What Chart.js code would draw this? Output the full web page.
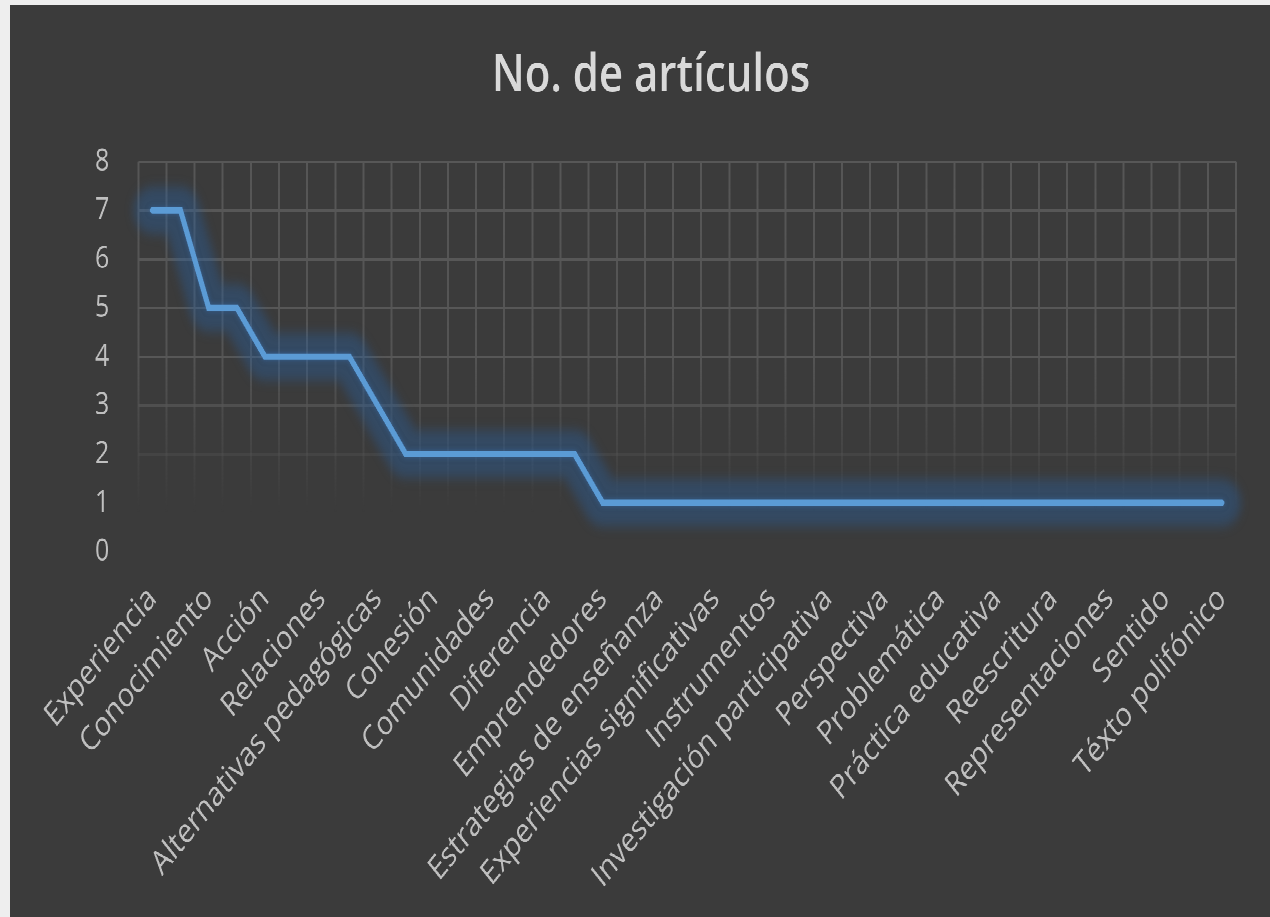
<!DOCTYPE html>
<html>
<head>
<meta charset="utf-8">
<script src="https://cdn.jsdelivr.net/npm/chart.js@4/dist/chart.umd.min.js"></script>
<style>
  html, body { margin: 0; padding: 0; background: #eeeeee; overflow: hidden; }
  #frame {
    position: absolute; left: 10px; top: 5px;
    width: 1260px; height: 730px;
    background: #3b3b3b;
    transform: scaleY(1.25); transform-origin: top left;
  }
  #frame canvas { display: block; }
</style>
</head>
<body>
<div id="frame"><canvas id="lineChart" width="1260" height="730" style="width:1260px;height:730px"></canvas></div>
<script>
// only every second category name is printed in the picture; the others stay blank
const categories = [
  "Experiencia", "", "Conocimiento", "", "Acción", "", "Relaciones", "",
  "Alternativas pedagógicas", "", "Cohesión", "", "Comunidades", "",
  "Diferencia", "", "Emprendedores", "", "Estrategias de enseñanza", "",
  "Experiencias significativas", "", "Instrumentos", "",
  "Investigación participativa", "", "Perspectiva", "", "Problemática", "",
  "Práctica educativa", "", "Reescritura", "", "Representaciones", "",
  "Sentido", "", "Téxto polifónico"
];
const articles = [
  7, 7, 5, 5, 4, 4, 4, 4, 3, 2, 2, 2, 2, 2, 2, 2,
  1, 1, 1, 1, 1, 1, 1, 1, 1, 1, 1, 1, 1, 1, 1, 1, 1, 1, 1, 1, 1, 1, 1
];
const yTicks = [0, 1, 2, 3, 4, 5, 6, 7, 8];

const gridRGB = "87, 87, 87";

// Excel "glow" effect: the halo dataset (index 1) is drawn blurred
const glowPlugin = {
  id: "glow",
  beforeDatasetDraw(chart, args) {
    const ctx = chart.ctx;
    ctx.save();
    if (args.index === 1) {
      ctx.filter = "blur(9px)";
    } else {
      ctx.shadowColor = "rgba(60, 120, 190, 0.5)";
      ctx.shadowBlur = 8;
    }
  },
  afterDatasetDraw(chart) {
    chart.ctx.restore();
  },
};

function verticalGridColor(context) {
  const chart = context.chart;
  const area = chart.chartArea;
  if (!area) return `rgba(${gridRGB}, 1)`;
  const g = chart.ctx.createLinearGradient(0, area.top, 0, area.bottom);
  g.addColorStop(0, `rgba(${gridRGB}, 1)`);
  g.addColorStop(0.5, `rgba(${gridRGB}, 0.9)`);
  g.addColorStop(0.75, `rgba(${gridRGB}, 0.35)`);
  g.addColorStop(0.9, `rgba(${gridRGB}, 0)`);
  g.addColorStop(1, `rgba(${gridRGB}, 0)`);
  return g;
}

function horizontalGridColor(context) {
  const v = context.tick ? context.tick.value : 8;
  let a = 1;
  if (v <= 3) a = 0.75;
  if (v <= 2) a = 0.35;
  if (v <= 1) a = 0;
  return `rgba(${gridRGB}, ${a})`;
}

const ctx = document.getElementById("lineChart").getContext("2d");
new Chart(ctx, {
  type: "line",
  data: {
    labels: categories,
    datasets: [
      {
        label: "No. de artículos",
        data: articles,
        borderColor: "#5b9bd5",
        borderWidth: 5,
        borderCapStyle: "round",
        borderJoinStyle: "miter",
        tension: 0,
        pointRadius: 0,
        fill: false,
        order: 0,
      },
      {
        // halo behind the line
        label: "glow",
        data: articles,
        borderColor: "rgba(40, 100, 170, 0.36)",
        borderWidth: 38,
        borderCapStyle: "round",
        borderJoinStyle: "round",
        tension: 0,
        pointRadius: 0,
        fill: false,
        order: 1,
      },
    ],
  },
  options: {
    responsive: false,
    animation: false,
    devicePixelRatio: 2,
    layout: { padding: { top: 30, left: 56, right: 34, bottom: -5 } },
    plugins: {
      legend: { display: false },
      tooltip: { enabled: false },
      title: {
        display: true,
        text: "No. de artículos",
        color: "#d9d9d9",
        font: { family: "Open Sans", size: 42, weight: "600" },
        padding: { top: 2, bottom: 43 },
      },
    },
    scales: {
      x: {
        offset: true,
        border: { display: false },
        grid: { offset: true, drawTicks: false, lineWidth: 2, color: verticalGridColor },
        ticks: {
          autoSkip: false,
          minRotation: 45,
          maxRotation: 45,
          padding: 22,
          color: "#bfbfbf",
          font: { family: "Open Sans", size: 27 },
        },
      },
      y: {
        min: yTicks[0],
        max: yTicks[yTicks.length - 1],
        border: { display: false },
        grid: { drawTicks: false, lineWidth: 2, color: horizontalGridColor },
        afterBuildTicks(scale) {
          scale.ticks = yTicks.map((v) => ({ value: v }));
        },
        ticks: {
          padding: 29,
          color: "#bfbfbf",
          font: { family: "Open Sans", size: 25 },
        },
      },
    },
  },
  plugins: [glowPlugin],
});
</script>
</body>
</html>
